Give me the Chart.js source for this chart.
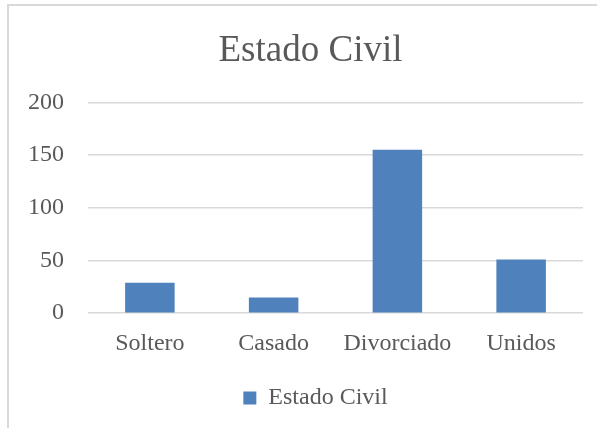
<!DOCTYPE html>
<html>
<head>
<meta charset="utf-8">
<script src="https://cdn.jsdelivr.net/npm/chart.js@4"></script>
<style>
  html, body { margin: 0; padding: 0; background: #fff; overflow: hidden; }
  body { width: 597px; height: 428px; position: relative; }
  #frame { position: absolute; left: 7px; top: 4px; width: 700px; height: 600px; border: 2px solid #d9d9d9; }
  #wrap { position: absolute; left: 0; top: 0; width: 597px; height: 428px; }
</style>
</head>
<body>
<div id="frame"></div>
<div id="wrap"><canvas id="barchart"></canvas></div>
<script>
const categories = ["Soltero", "Casado", "Divorciado", "Unidos"];
const seriesName = "Estado Civil";
const values = [29, 15, 155, 51];
const yTicks = [0, 50, 100, 150, 200];

const textColor = "#595959";
const fontFamily = "'Liberation Serif', 'DejaVu Serif', serif";

// the original frame is cut on the right, so title and legend sit right of centre
const nudgeBlocks = {
  id: "nudgeBlocks",
  afterLayout(chart) {
    chart.legend.left += 24;
    chart.legend.right += 24;
    chart.titleBlock.left += 19;
    chart.titleBlock.right += 19;
  },
};

const ctx = document.getElementById("barchart");

new Chart(ctx, {
  type: "bar",
  data: {
    labels: categories,
    datasets: [
      {
        label: seriesName,
        data: values,
        backgroundColor: "#4f81bd",
        borderWidth: 0,
        categoryPercentage: 1,
        barPercentage: 0.4,
      },
    ],
  },
  plugins: [nudgeBlocks],
  options: {
    responsive: true,
    maintainAspectRatio: false,
    animation: false,
    layout: { padding: { left: 0, right: 14, top: 0, bottom: 8 } },
    plugins: {
      title: {
        display: true,
        text: seriesName,
        color: textColor,
        font: { family: fontFamily, size: 37, weight: "normal" },
        padding: { top: 29, bottom: 29 },
      },
      legend: {
        position: "bottom",
        labels: {
          color: textColor,
          font: { family: fontFamily, size: 24 },
          boxWidth: 13,
          boxHeight: 13,
          padding: 12,
        },
      },
      tooltip: { enabled: false },
    },
    scales: {
      x: {
        grid: { display: false, drawTicks: false },
        border: { display: false },
        ticks: {
          color: textColor,
          font: { family: fontFamily, size: 24 },
          padding: 16,
          maxRotation: 0,
        },
      },
      y: {
        min: 0,
        max: 200,
        afterBuildTicks: (scale) => {
          scale.ticks = yTicks.map((v) => ({ value: v }));
        },
        afterFit: (scale) => {
          scale.width = 88;
        },
        grid: { color: "#d9d9d9", lineWidth: 1.5, drawTicks: false },
        border: { display: false },
        ticks: {
          color: textColor,
          font: { family: fontFamily, size: 24 },
          padding: 24,
        },
      },
    },
  },
});
</script>
</body>
</html>
